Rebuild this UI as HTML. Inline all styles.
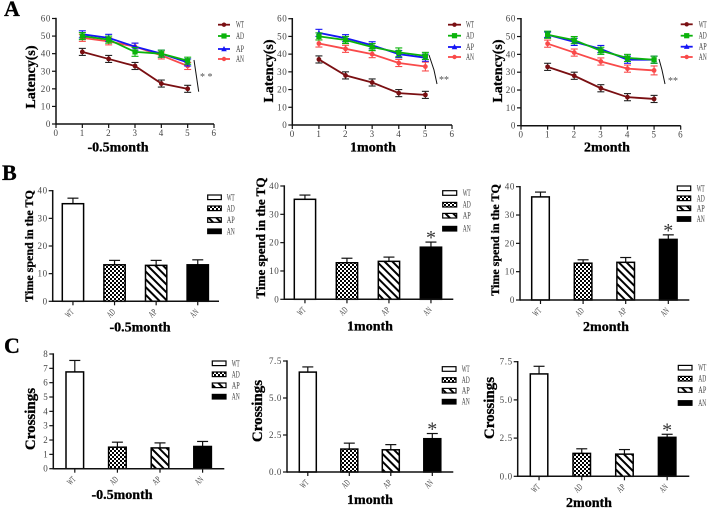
<!DOCTYPE html>
<html lang="en">
<head>
<meta charset="utf-8">
<title>Behavioral test panels</title>
<style>
html,body{margin:0;padding:0;background:#fff;}
#figure{display:block;width:708px;height:509px;filter:blur(0.35px);}
text{font-family:"Liberation Serif",serif;}
.tick{font-size:9px;fill:#444;letter-spacing:.6px;}
.legend-text{font-size:9px;fill:#444;}
.bold{font-weight:bold;fill:#000;stroke:#000;stroke-width:.3px;}
</style>
</head>
<body>
<svg id="figure" xmlns="http://www.w3.org/2000/svg" width="708" height="509" viewBox="0 0 708 509">
<defs>
<pattern id="check" width="4" height="4" patternUnits="userSpaceOnUse">
<rect width="4" height="4" fill="#fff"/><rect width="2" height="2" fill="#000"/><rect x="2" y="2" width="2" height="2" fill="#000"/>
</pattern>
<pattern id="stripe" width="5.5" height="5.5" patternUnits="userSpaceOnUse" patternTransform="rotate(45)">
<rect width="5.5" height="5.5" fill="#fff"/><rect width="5.5" height="2" fill="#000"/>
</pattern>
</defs>
</svg>
<script>
// ---- Line chart data (latency, seconds) ----
const sessionDays = [1, 2, 3, 4, 5];
const lineSeriesNames = ['WT', 'AD', 'AP', 'AN'];
const latencyTicksY = [0, 10, 20, 30, 40, 50, 60];
const latencyTicksX = [0, 1, 2, 3, 4, 5, 6];

const latencyEarlyWT = [41, 37, 33, 23, 20];
const latencyEarlyAD = [50, 48, 41, 40, 36];
const latencyEarlyAP = [51, 49, 44, 40, 35];
const latencyEarlyAN = [49, 47, 44, 39, 33];
const latencyEarlyErrWT = [2, 2, 2, 2, 2];
const latencyEarlyErrAD = [2, 2, 2.5, 2, 2];
const latencyEarlyErrAP = [2, 2, 2, 2, 2];
const latencyEarlyErrAN = [2, 2, 2, 2, 2];

const latencyOneWT = [37, 28, 24, 18, 17];
const latencyOneAD = [50, 48, 44, 41, 39];
const latencyOneAP = [52, 49, 45, 40, 38];
const latencyOneAN = [46, 43, 40, 35, 33];
const latencyOneErrWT = [2, 2, 2, 2, 2];
const latencyOneErrAD = [2, 2, 2, 2.5, 2];
const latencyOneErrAP = [2, 2, 2, 2, 2];
const latencyOneErrAN = [2, 2, 2, 2, 2.5];

const latencyTwoWT = [33, 28, 21, 16, 15];
const latencyTwoAD = [51, 48, 42, 38, 37];
const latencyTwoAP = [51, 47, 43, 37, 37];
const latencyTwoAN = [46, 41, 36, 32, 31];
const latencyTwoErrWT = [2, 2, 2, 2, 2];
const latencyTwoErrAD = [2, 2, 2, 2, 2];
const latencyTwoErrAP = [1.5, 2, 2, 2, 2];
const latencyTwoErrAN = [2, 2, 2, 2, 2.5];

// ---- Bar chart data ----
const groupNames = ['WT', 'AD', 'AP', 'AN'];
const timeTicks = [0, 10, 20, 30, 40];
const crossingTicksEight = [0, 1, 2, 3, 4, 5, 6, 7, 8];
const crossingTicksQuarter = ['0.0', '2.5', '5.0', '7.5'];

const timeEarly = [35.3, 13.2, 13, 13.2];
const timeEarlyErr = [2, 1.6, 1.8, 1.8];
const timeOne = [35.3, 12.9, 13.4, 18.4];
const timeOneErr = [1.5, 1.6, 1.5, 1.8];
const timeTwo = [36.4, 13, 13.3, 21.4];
const timeTwoErr = [1.7, 1.2, 1.7, 1.6];

const crossingsEarly = [6.75, 1.5, 1.45, 1.55];
const crossingsEarlyErr = [0.8, 0.35, 0.35, 0.35];
const crossingsOne = [6.75, 1.55, 1.5, 2.25];
const crossingsOneErr = [0.35, 0.4, 0.35, 0.35];
const crossingsTwo = [6.7, 1.5, 1.45, 2.55];
const crossingsTwoErr = [0.5, 0.3, 0.3, 0.2];

// ---- Layout (pixels), separate from the data ----
const lineColors = { WT: '#7a0f12', AD: '#0bb30b', AP: '#1515f5', AN: '#f94a4a' };
const lineDrawOrder = [0, 3, 2, 1];

const linePanels = [
  { id: 'a1', x0: 56, x6: 214, yTop: 18.5, yBase: 124,
    values: [latencyEarlyWT, latencyEarlyAD, latencyEarlyAP, latencyEarlyAN],
    errs: [latencyEarlyErrWT, latencyEarlyErrAD, latencyEarlyErrAP, latencyEarlyErrAN],
    title: '-0.5month', titleX: 118, titleY: 151.5, labelX: 35, labelY: 77,
    legX1: 218, legX2: 230, legTextX: 236, legY: [24.7, 36, 49, 59],
    sig: [[194, 60], [198.7, 91.7]], sigText: '* *', sigX: 200, sigY: 80 },
  { id: 'a2', x0: 292.3, x6: 452, yTop: 18.7, yBase: 125,
    values: [latencyOneWT, latencyOneAD, latencyOneAP, latencyOneAN],
    errs: [latencyOneErrWT, latencyOneErrAD, latencyOneErrAP, latencyOneErrAN],
    title: '1month', titleX: 373, titleY: 151.5, labelX: 273, labelY: 71,
    legX1: 448, legX2: 461, legTextX: 466, legY: [24.7, 35.7, 47, 57],
    sig: [[429, 55], [434, 70], [437, 84]], sigText: '**', sigX: 439, sigY: 83 },
  { id: 'a3', x0: 521, x6: 680.7, yTop: 18.7, yBase: 125.7,
    values: [latencyTwoWT, latencyTwoAD, latencyTwoAP, latencyTwoAN],
    errs: [latencyTwoErrWT, latencyTwoErrAD, latencyTwoErrAP, latencyTwoErrAN],
    title: '2month', titleX: 607, titleY: 151.5, labelX: 502, labelY: 71,
    legX1: 680.7, legX2: 692.7, legTextX: 698.7, legY: [24.3, 35.7, 46.7, 57],
    sig: [[659, 59], [662, 70], [665, 84]], sigText: '**', sigX: 668, sigY: 84 }
];

const barPanels = [
  { id: 'b1', axisX: 52.7, endX: 219, yTop: 190.7, yBase: 301.3, ticks: timeTicks, max: 40,
    values: timeEarly, errs: timeEarlyErr, firstBar: 62.3, step: 41.6, barW: 21.3,
    yTitle: 'Time spend in the TQ', yTitleSize: 12, yTitleX: 33, yTitleY: 246,
    title: '-0.5month', titleX: 140, titleY: 331.7,
    legX: 207.7, legW: 13.6, legTextX: 226.7, legY: [197.3, 208.3, 220, 231.3], star: false },
  { id: 'b2', axisX: 284.3, endX: 453.3, yTop: 186, yBase: 299.3, ticks: timeTicks, max: 40,
    values: timeOne, errs: timeOneErr, firstBar: 294.3, step: 42, barW: 21.3,
    yTitle: 'Time spend in the TQ', yTitleSize: 13, yTitleX: 265, yTitleY: 238,
    title: '1month', titleX: 370, titleY: 330.7,
    legX: 442.7, legW: 14, legTextX: 462.7, legY: [193, 204.7, 215.7, 228.7], star: true },
  { id: 'b3', axisX: 520, endX: 689.3, yTop: 186.7, yBase: 300, ticks: timeTicks, max: 40,
    values: timeTwo, errs: timeTwoErr, firstBar: 531.7, step: 42.6, barW: 17.6,
    yTitle: 'Time spend in the TQ', yTitleSize: 12, yTitleX: 499, yTitleY: 240,
    title: '2month', titleX: 606, titleY: 331,
    legX: 677.3, legW: 13.4, legTextX: 696.7, legY: [188.3, 198.3, 208.3, 219], star: true },
  { id: 'c1', axisX: 53.3, endX: 224.3, yTop: 354, yBase: 468.7, ticks: crossingTicksEight, max: 8,
    values: crossingsEarly, errs: crossingsEarlyErr, firstBar: 66, step: 42.6, barW: 17.6,
    yTitle: 'Crossings', yTitleSize: 15, yTitleX: 35, yTitleY: 419,
    title: '-0.5month', titleX: 122, titleY: 499,
    legX: 212.3, legW: 13.7, legTextX: 231.7, legY: [363.3, 374.3, 385.3, 396.7], star: false },
  { id: 'c2', axisX: 287, endX: 453.3, yTop: 361, yBase: 472, ticks: crossingTicksQuarter, max: 7.5,
    values: crossingsOne, errs: crossingsOneErr, firstBar: 299.3, step: 41.5, barW: 17,
    yTitle: 'Crossings', yTitleSize: 15, yTitleX: 262, yTitleY: 411,
    title: '1month', titleX: 370, titleY: 504,
    legX: 442.3, legW: 13.7, legTextX: 461.7, legY: [369, 380, 390.7, 401.7], star: true },
  { id: 'c3', axisX: 517.7, endX: 689.3, yTop: 361.7, yBase: 476.3, ticks: crossingTicksQuarter, max: 7.5,
    values: crossingsTwo, errs: crossingsTwoErr, firstBar: 530.3, step: 42.7, barW: 17.5,
    yTitle: 'Crossings', yTitleSize: 15, yTitleX: 494, yTitleY: 408,
    title: '2month', titleX: 589, titleY: 507,
    legX: 678.3, legW: 13.7, legTextX: 698.3, legY: [367.7, 378.7, 390, 403], star: true }
];

const barFills = ['#fff', 'url(#check)', 'url(#stripe)', '#000'];
const panelLetters = [['A', 4, 16], ['B', 2, 180], ['C', 4, 353]];

const svg = document.getElementById('figure');
const NS = 'http://www.w3.org/2000/svg';

function make(parent, tag, attrs, txt) {
  const el = document.createElementNS(NS, tag);
  for (const k in attrs) el.setAttribute(k, attrs[k]);
  if (txt !== undefined) el.textContent = txt;
  parent.appendChild(el);
  return el;
}
function seg(parent, x1, y1, x2, y2, color, w) {
  return make(parent, 'line', { x1, y1, x2, y2, stroke: color, 'stroke-width': w });
}

function drawLinePanel(p) {
  const sx = v => p.x0 + (p.x6 - p.x0) * v / 6;
  const sy = v => p.yBase - (p.yBase - p.yTop) * v / 60;
  const g = make(svg, 'g', {});
  
  

  const yAxis = seg(g, p.x0, p.yTop - 0.7, p.x0, p.yBase + 0.7, '#111', 1.5);
  
  
  const xAxis = seg(g, p.x0, p.yBase, p.x6, p.yBase, '#111', 1.5);
  
  

  latencyTicksY.forEach(t => {
    seg(g, p.x0 - 4, sy(t), p.x0, sy(t), '#111', 1.2);
    const lab = make(g, 'text', { x: p.x0 - 5, y: sy(t) + 3, 'text-anchor': 'end', class: 'tick' }, t);
    
    
  });
  latencyTicksX.forEach(t => {
    seg(g, sx(t), p.yBase, sx(t), p.yBase + 4, '#111', 1.2);
    const lab = make(g, 'text', { x: sx(t), y: p.yBase + 12, 'text-anchor': 'middle', class: 'tick' }, t);
    
    
  });

  lineDrawOrder.forEach(si => {
    const name = lineSeriesNames[si];
    const color = lineColors[name];
    const sg = make(g, 'g', {});
    
    
    const errColor = name === 'WT' ? '#222' : color;
    sessionDays.forEach((d, i) => {
      const v = p.values[si][i], e = p.errs[si][i];
      seg(sg, sx(d), sy(v - e), sx(d), sy(v + e), errColor, 1.1);
      seg(sg, sx(d) - 3.5, sy(v + e), sx(d) + 3.5, sy(v + e), errColor, 1.1);
      seg(sg, sx(d) - 3.5, sy(v - e), sx(d) + 3.5, sy(v - e), errColor, 1.1);
    });
    const pts = sessionDays.map((d, i) => sx(d) + ',' + sy(p.values[si][i])).join(' ');
    make(sg, 'polyline', { points: pts, fill: 'none', stroke: color, 'stroke-width': 1.8 });
    sessionDays.forEach((d, i) => {
      const cx = sx(d), cy = sy(p.values[si][i]);
      if (name === 'AD') make(sg, 'rect', { x: cx - 2.6, y: cy - 2.6, width: 5.2, height: 5.2, fill: color });
      else if (name === 'AP') make(sg, 'polygon', { points: [cx, cy - 3, cx + 2.8, cy + 2.2, cx - 2.8, cy + 2.2].join(','), fill: color });
      else make(sg, 'circle', { cx, cy, r: 2.4, fill: color });
    });
  });

  lineSeriesNames.forEach((name, i) => {
    const ly = p.legY[i];
    const color = lineColors[name];
    const item = make(g, 'g', {});
    
    
    seg(item, p.legX1, ly, p.legX2, ly, color, 1.8);
    const mx = (p.legX1 + p.legX2) / 2;
    if (name === 'AD') make(item, 'rect', { x: mx - 2.6, y: ly - 2.6, width: 5.2, height: 5.2, fill: color });
    else if (name === 'AP') make(item, 'polygon', { points: [mx, ly - 3, mx + 2.8, ly + 2.2, mx - 2.8, ly + 2.2].join(','), fill: color });
    else make(item, 'circle', { cx: mx, cy: ly, r: 2.2, fill: color });
    make(item, 'text', { x: p.legTextX, y: ly + 3, class: 'legend-text', textLength: 8, lengthAdjust: 'spacingAndGlyphs' }, name);
  });

  const sig = make(g, 'polyline', { points: p.sig.map(c => c.join(',')).join(' '), fill: 'none', stroke: '#111', 'stroke-width': 1 });
  
  
  const sigT = make(g, 'text', { x: p.sigX, y: p.sigY, 'font-size': 10, fill: '#555' }, p.sigText);
  
  

  const yl = make(g, 'text', { x: 0, y: 0, 'text-anchor': 'middle', class: 'bold', 'font-size': 14, transform: 'translate(' + p.labelX + ',' + p.labelY + ') rotate(-90)' }, 'Latency(s)');
  
  
  const tt = make(g, 'text', { x: p.titleX, y: p.titleY, 'text-anchor': 'middle', class: 'bold', 'font-size': 14 }, p.title);
  
  
}

function drawBarPanel(p) {
  const sy = v => p.yBase - (p.yBase - p.yTop) * v / p.max;
  const bx = i => p.firstBar + p.step * i;
  const g = make(svg, 'g', {});
  
  

  p.values.forEach((v, i) => {
    const top = sy(v), errTop = sy(v + p.errs[i]);
    const mid = bx(i) + p.barW / 2;
    seg(g, mid, errTop, mid, top, '#111', 1.2);
    seg(g, mid - 5.5, errTop, mid + 5.5, errTop, '#111', 1.2);
    const bar = make(g, 'rect', { x: bx(i), y: top, width: p.barW, height: p.yBase - top, fill: barFills[i], stroke: '#000', 'stroke-width': 1.5 });
    
    
    seg(g, mid, p.yBase, mid, p.yBase + 4, '#111', 1.2);
    const lab = make(g, 'text', { x: 0, y: 0, 'text-anchor': 'middle', class: 'legend-text', textLength: 8, lengthAdjust: 'spacingAndGlyphs', transform: 'translate(' + (mid - 1.5) + ',' + (p.yBase + 14) + ') rotate(-45)' }, groupNames[i]);
    
    
    if (p.star && i === 3) {
      const star = make(g, 'text', { x: mid, y: errTop + 2, 'text-anchor': 'middle', 'font-size': 20, fill: '#333' }, '*');
      
      
    }
  });

  const yAxis = seg(g, p.axisX, p.yTop - 0.7, p.axisX, p.yBase + 0.7, '#111', 1.5);
  
  
  const xAxis = seg(g, p.axisX, p.yBase, p.endX, p.yBase, '#111', 1.5);
  
  

  p.ticks.forEach(t => {
    const y = sy(parseFloat(t));
    seg(g, p.axisX - 4, y, p.axisX, y, '#111', 1.2);
    const lab = make(g, 'text', { x: p.axisX - 5, y: y + 3, 'text-anchor': 'end', class: 'tick' }, t);
    
    
  });

  groupNames.forEach((name, i) => {
    const ly = p.legY[i];
    const item = make(g, 'g', {});
    
    
    make(item, 'rect', { x: p.legX, y: ly - 2.3, width: p.legW, height: 4.6, fill: barFills[i], stroke: '#000', 'stroke-width': 1.2 });
    make(item, 'text', { x: p.legTextX, y: ly + 3, class: 'legend-text', textLength: 8, lengthAdjust: 'spacingAndGlyphs' }, name);
  });

  const yl = make(g, 'text', { x: 0, y: 0, 'text-anchor': 'middle', class: 'bold', 'font-size': p.yTitleSize, transform: 'translate(' + p.yTitleX + ',' + p.yTitleY + ') rotate(-90)' }, p.yTitle);
  
  
  const tt = make(g, 'text', { x: p.titleX, y: p.titleY, 'text-anchor': 'middle', class: 'bold', 'font-size': 14 }, p.title);
  
  
}

linePanels.forEach(drawLinePanel);
barPanels.forEach(drawBarPanel);
panelLetters.forEach(l => {
  const t = make(svg, 'text', { x: l[1], y: l[2], class: 'bold', 'font-size': 22 }, l[0]);
  
  
});
</script>
</body>
</html>
